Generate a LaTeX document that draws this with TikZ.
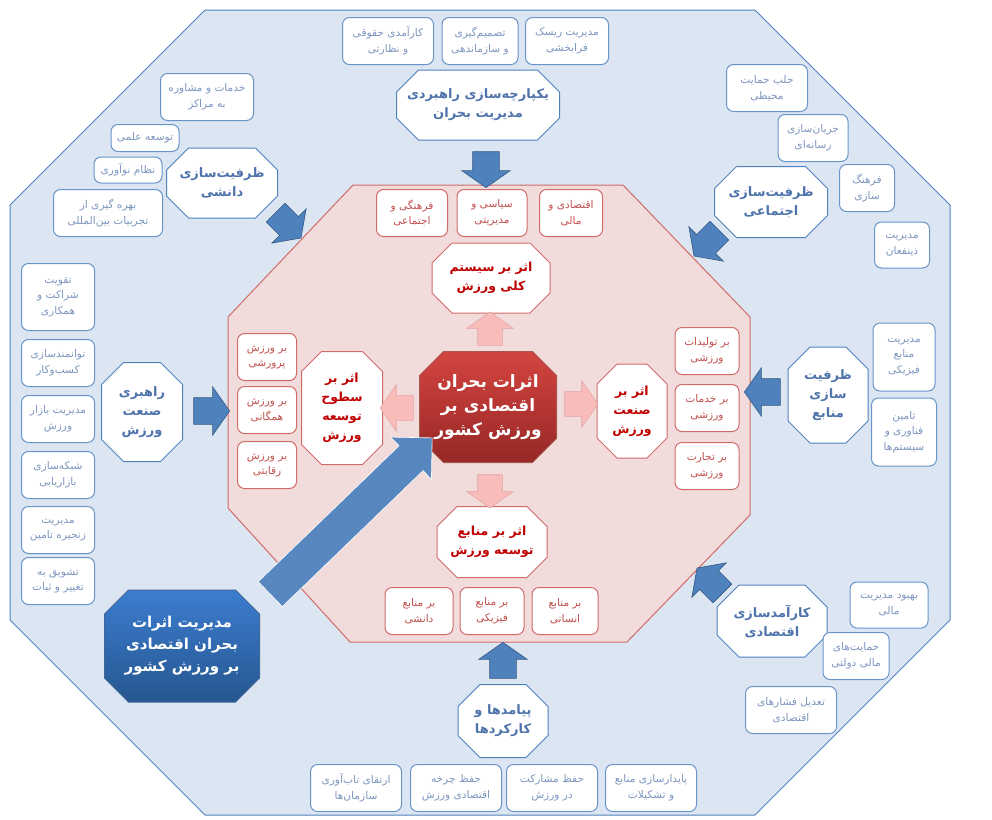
\documentclass[tikz,border=0pt]{standalone}
\usepackage{fontspec}
\newfontfamily\arabicfont[Script=Arabic]{DejaVu Sans}
\TeXXeTstate=1
\usepackage{tikz}
\usetikzlibrary{shapes.arrows}
\definecolor{skyfill}{HTML}{DCE6F2}
\definecolor{skyline}{HTML}{4F81BD}
\definecolor{bluetext}{HTML}{7D96BF}
\definecolor{bluehd}{HTML}{4F73AB}
\definecolor{navytop}{HTML}{3C7DD0}
\definecolor{navybot}{HTML}{26568F}
\definecolor{rosefill}{HTML}{F2DCDB}
\definecolor{roseline}{HTML}{D06B68}
\definecolor{redtext}{HTML}{C0504D}
\definecolor{redhd}{HTML}{C00000}
\definecolor{crimtop}{HTML}{D4443F}
\definecolor{crimbot}{HTML}{962826}
\definecolor{pinkfill}{HTML}{F8BCBA}
\newcommand\rl[1]{\beginR #1\endR}
\newcommand\zw{^^^^200c}
% octagon round a centre: x, y, width, height, cut
\newcommand\octo[5]{(#1-#3/2+#5,#2-#4/2) -- (#1+#3/2-#5,#2-#4/2) -- (#1+#3/2,#2-#4/2+#5) -- (#1+#3/2,#2+#4/2-#5) -- (#1+#3/2-#5,#2+#4/2) -- (#1-#3/2+#5,#2+#4/2) -- (#1-#3/2,#2+#4/2-#5) -- (#1-#3/2,#2-#4/2+#5) -- cycle}

\begin{document}
\begin{tikzpicture}[x=1pt,y=-1pt,
  bluehead/.style={draw=skyline,fill=white,line width=1pt},
  redhead/.style={draw=roseline,fill=white,line width=1pt},
  headtext/.style={inner sep=0pt,align=center,font=\arabicfont\bfseries\fontsize{13}{19}\selectfont},
  bluebox/.style={rectangle,rounded corners=7pt,draw=skyline!85,fill=white,line width=1pt,inner sep=1pt,align=center,text=bluetext,font=\arabicfont\fontsize{10.6}{15.5}\selectfont},
  redbox/.style={bluebox,draw=roseline,text=redtext,minimum height=47pt},
  bluearrow/.style={single arrow,fill=skyline,draw=skyline!70!black,line width=0.6pt,inner sep=13pt,single arrow head extend=11pt,single arrow tip angle=110,single arrow head indent=0pt,minimum width=0pt},
  pinkarrow/.style={bluearrow,fill=pinkfill,draw=roseline!60,inner sep=12pt}]
\useasboundingbox (0,0) rectangle (992,819);
\draw[skyline,fill=skyfill,line width=1pt] (205,10) -- (755,10) -- (950,205) -- (950,620) -- (755,815) -- (205,815) -- (10,620) -- (10,205) -- cycle;
\draw[roseline,fill=rosefill,line width=1pt] (353,185) -- (623,185) -- (750,317) -- (750,515) -- (627,642) -- (350,642) -- (228,508) -- (228,317) -- cycle;

% outer ring
\foreach \n/\x/\y/\w/\h/\t in {
  k1/478/105/163/70/{\rl{یکپارچه\zw سازی راهبردی}\\\rl{مدیریت بحران}}, k2/222/183/111/70/{\rl{ظرفیت\zw سازی}\\\rl{دانشی}},
  k3/771/202/113/71/{\rl{ظرفیت\zw سازی}\\\rl{اجتماعی}}, k4/142/412/81/99/{\rl{راهبری}\\\rl{صنعت}\\\rl{ورزش}},
  k5/828/395/80/96/{\rl{ظرفیت}\\\rl{سازی}\\\rl{منابع}}, k6/772/621/110/72/{\rl{کارآمدسازی}\\\rl{اقتصادی}},
  k7/503/721/90/73/{\rl{پیامدها و}\\\rl{کارکردها}}}{
  \draw[bluehead] \octo{\x}{\y}{\w}{\h}{22};
  \node[headtext,text=bluehd,minimum width=\w pt,minimum height=\h pt] (\n) at (\x,\y) {\t};
}
\shade[top color=navytop,bottom color=navybot,draw=skyline!80!black,line width=1pt] \octo{182}{646}{155}{112}{24};
\node[headtext,text=white,minimum width=155pt,minimum height=112pt,font=\arabicfont\bfseries\fontsize{15}{22}\selectfont] (m) at (182,646) {\rl{مدیریت اثرات}\\\rl{بحران اقتصادی}\\\rl{بر ورزش کشور}};

% inner ring
\shade[top color=crimtop,bottom color=crimbot,draw=roseline!80!black,line width=1pt] \octo{488}{407}{137}{111}{24};
\node[headtext,text=white,minimum width=137pt,minimum height=111pt,font=\arabicfont\bfseries\fontsize{17}{24}\selectfont] (c) at (488,407) {\rl{اثرات بحران}\\\rl{اقتصادی بر}\\\rl{ورزش کشور}};
\foreach \n/\x/\y/\w/\h/\t in {
  e1/491/278/118/70/{\rl{اثر بر سیستم}\\\rl{کلی ورزش}}, e2/632/411/70/94/{\rl{اثر بر}\\\rl{صنعت}\\\rl{ورزش}},
  e3/342/408/81/113/{\rl{اثر بر}\\\rl{سطوح}\\\rl{توسعه}\\\rl{ورزش}}, e4/492/542/110/71/{\rl{اثر بر منابع}\\\rl{توسعه ورزش}}}{
  \draw[redhead] \octo{\x}{\y}{\w}{\h}{20};
  \node[headtext,text=redhd,minimum width=\w pt,minimum height=\h pt,font=\arabicfont\bfseries\fontsize{12.5}{19}\selectfont] (\n) at (\x,\y) {\t};
}

\foreach \x/\y/\w/\t [count=\i] in {
  412/213/71/{\rl{فرهنگی و}\\\rl{اجتماعی}}, 492/213/70/{\rl{سیاسی و}\\\rl{مدیریتی}}, 571/213/63/{\rl{اقتصادی و}\\\rl{مالی}},
  707/351/64/{\rl{بر تولیدات}\\\rl{ورزشی}}, 707/408/64/{\rl{بر خدمات}\\\rl{ورزشی}}, 707/466/64/{\rl{بر تجارت}\\\rl{ورزشی}},
  267/357/59/{\rl{بر ورزش}\\\rl{پرورشی}}, 267/410/59/{\rl{بر ورزش}\\\rl{همگانی}}, 267/465/59/{\rl{بر ورزش}\\\rl{رقابتی}},
  419/611/68/{\rl{بر منابع}\\\rl{دانشی}}, 492/611/64/{\rl{بر منابع}\\\rl{فیزیکی}}, 565/611/66/{\rl{بر منابع}\\\rl{انسانی}}}
  \node[redbox,minimum width=\w pt] (r\i) at (\x,\y) {\t};

\foreach \x/\y/\w/\h/\t [count=\i] in {
  388/41/91/47/{\rl{کارآمدی حقوقی}\\\rl{و نظارتی}}, 480/41/76/47/{\rl{تصمیم\zw گیری}\\\rl{و سازماندهی}}, 567/41/83/47/{\rl{مدیریت ریسک}\\\rl{فرابخشی}},
  207/97/93/47/{\rl{خدمات و مشاوره}\\\rl{به مراکز}}, 145/138/68/27/{\rl{توسعه علمی}}, 128/170/68/26/{\rl{نظام نوآوری}}, 108/213/109/47/{\rl{بهره گیری از}\\\rl{تجربیات بین\zw المللی}},
  767/88/81/47/{\rl{جلب حمایت}\\\rl{محیطی}}, 813/138/70/47/{\rl{جریان\zw سازی}\\\rl{رسانه\zw ای}}, 867/188/55/47/{\rl{فرهنگ}\\\rl{سازی}}, 902/245/55/46/{\rl{مدیریت}\\\rl{ذینفعان}},
  58/297/73/67/{\rl{تقویت}\\\rl{شراکت و}\\\rl{همکاری}}, 58/363/73/47/{\rl{توانمندسازی}\\\rl{کسب\zw وکار}}, 58/419/73/47/{\rl{مدیریت بازار}\\\rl{ورزش}},
  58/475/73/47/{\rl{شبکه\zw سازی}\\\rl{بازاریابی}}, 58/530/73/47/{\rl{مدیریت}\\\rl{زنجیره تامین}}, 58/581/73/47/{\rl{تشویق به}\\\rl{تغییر و ثبات}},
  904/357/62/68/{\rl{مدیریت}\\\rl{منابع}\\\rl{فیزیکی}}, 904/432/65/68/{\rl{تامین}\\\rl{فناوری و}\\\rl{سیستم\zw ها}},
  889/605/78/46/{\rl{بهبود مدیریت}\\\rl{مالی}}, 856/656/66/47/{\rl{حمایت\zw های}\\\rl{مالی دولتی}}, 791/710/91/47/{\rl{تعدیل فشارهای}\\\rl{اقتصادی}},
  356/788/91/47/{\rl{ارتقای تاب\zw آوری}\\\rl{سازمان\zw ها}}, 456/788/91/47/{\rl{حفظ چرخه}\\\rl{اقتصادی ورزش}}, 552/788/91/47/{\rl{حفظ مشارکت}\\\rl{در ورزش}}, 651/788/91/47/{\rl{پایدارسازی منابع}\\\rl{و تشکیلات}}}
  \node[bluebox,minimum width=\w pt,minimum height=\h pt] (b\i) at (\x,\y) {\t};

% block arrows
\node[bluearrow,minimum height=34pt,rotate=-90] (a1) at (486,165) {};
\node[bluearrow,minimum height=32pt,rotate=-45] (a2) at (285,222) {};
\node[bluearrow,minimum height=32pt,rotate=-135] (a3) at (710,240) {};
\node[bluearrow,minimum height=31pt] (a4) at (207,411) {};
\node[bluearrow,minimum height=30pt,rotate=180] (a5) at (767,392) {};
\node[bluearrow,minimum height=32pt,rotate=135] (a6) at (713,584) {};
\node[bluearrow,minimum height=28pt,rotate=90] (a7) at (503,665) {};
\node[pinkarrow,minimum height=28pt,rotate=90] (p1) at (490,333) {};
\node[pinkarrow,minimum height=29pt] (p2) at (577,404) {};
\node[pinkarrow,minimum height=28pt,rotate=180] (p3) at (401,408) {};
\node[pinkarrow,minimum height=31pt,rotate=-90] (p4) at (490,487) {};
\node[bluearrow,fill=skyline!95!white,draw=white,inner sep=17pt,single arrow head extend=12pt,single arrow tip angle=90,minimum height=225pt,rotate=44] (a0) at (345,522) {};
\end{tikzpicture}
\end{document}
